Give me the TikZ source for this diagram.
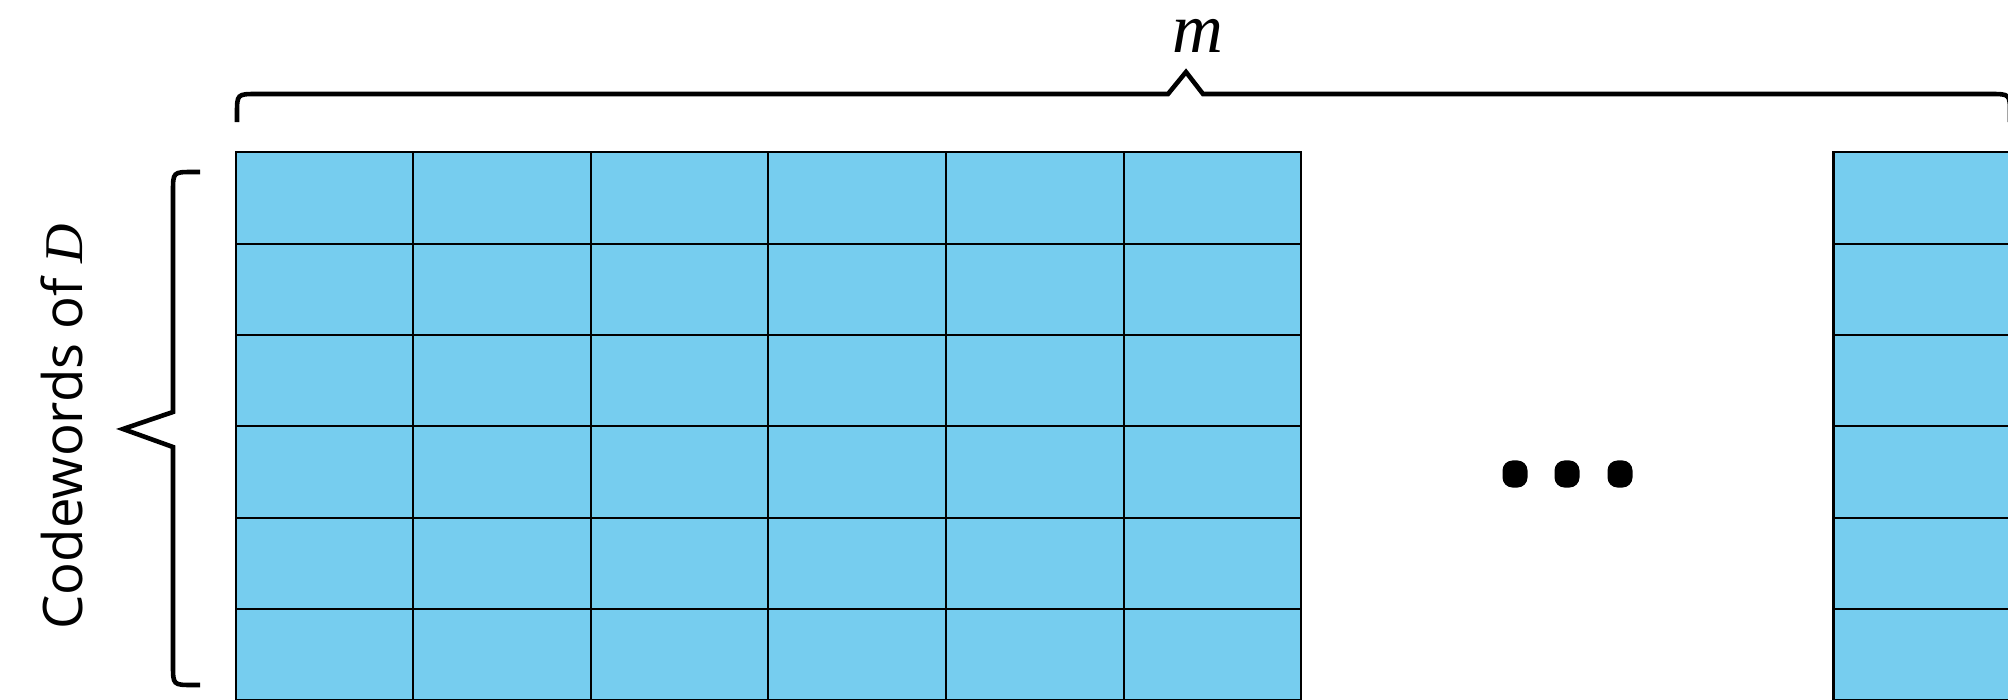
\documentclass[tikz,border=0pt]{standalone}
\usepackage{fontspec}
\setmainfont{Liberation Serif}
\newfontfamily\sanslabel{Open Sans}
\definecolor{cellblue}{RGB}{118,205,239}

\begin{document}
\begin{tikzpicture}[x=0.01cm,y=-0.01cm,
  cell/.style={draw=black,fill=cellblue,line width=0.6pt},
  brace/.style={draw=black,line width=1.3pt},
  dotbox/.style={fill=black,rounded corners=0.1cm,minimum width=0.25cm,minimum height=0.27cm,inner sep=0pt}]
\useasboundingbox (0,0) rectangle (2008,700);
\clip (0,0) rectangle (2008,700);

\foreach \i in {0,...,5}{
  \foreach \j in {0,...,5}{
    \path[cell] ({235.6+177.6*\i},{152.4+91.3*\j}) rectangle ++(177.6,91.3);
  }
}
\foreach \j in {0,...,5}{
  \path[cell] (1833.5,{152.4+91.3*\j}) rectangle ++(177.6,91.3);
}

\node[anchor=base,inner sep=0pt] (mlab) at (1198,52) {\fontsize{20}{20}\selectfont\itshape m};
\node[rotate=90,anchor=base,inner sep=0pt] (cwlab) at (82,427) {\fontsize{15.5}{15.5}\selectfont\sanslabel Codewords of {\rmfamily\itshape D}};

\draw[brace] (237,122) -- (237,114) .. controls (237,94) .. (257,94) -- (1168,94) -- (1186,72) -- (1203,94) -- (1990,94) .. controls (2010,94) .. (2010,114) -- (2010,122);
\draw[brace] (200,172) -- (193,172) .. controls (173,172) .. (173,192) -- (173,412) -- (123,429) -- (173,447) -- (173,665) .. controls (173,685) .. (193,685) -- (200,685);

\node[dotbox] (dot1) at (1515,474) {};
\node[dotbox] (dot2) at (1567,474) {};
\node[dotbox] (dot3) at (1620,474) {};
\end{tikzpicture}
\end{document}
